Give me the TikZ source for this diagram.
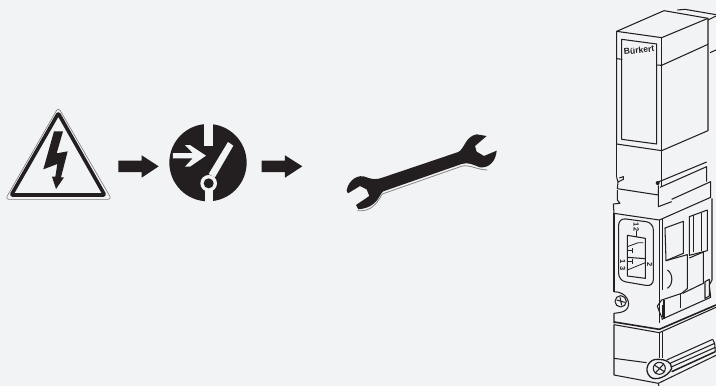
\documentclass[tikz,border=0pt]{standalone}
\usepackage{fontspec}
\setmainfont{Liberation Sans}
\definecolor{bgc}{HTML}{F2F3F5}
\definecolor{ink}{HTML}{231F20}
\tikzset{
  zm/.style={x=0.33333pt,y=-0.33333pt},
  dl/.style={draw=ink,line width=1.05pt,line join=round,fill=none},
  thinline/.style={draw=ink,line width=0.8pt},
  lab/.style={inner sep=0pt,font=\bfseries\fontsize{7.5}{8}\selectfont,text=ink,rotate=-90}
}
\begin{document}
\begin{tikzpicture}[x=1pt,y=-1pt]
\useasboundingbox[fill=bgc] (0,0) rectangle (716,386);
% warning triangle
\begin{scope}[shift={(0,90)},zm]
\draw[draw=ink!60,line width=0.6pt,line join=round,rounded corners=3.5pt] (175,52)--(335,328)--(16,328)--cycle;
\draw[draw=ink,line width=3.6pt,line join=round,rounded corners=1pt] (175,70)--(314,315)--(34,315)--cycle;
\fill[ink] (162,124)--(189,124)--(170,190)--(203,184)--(183,262)--(192,262)--(168,297)--(156,260)--(166,260)--(172,222)--(130,238)--cycle;
% arrow 1
\fill[ink] (355,212)--(425,212)--(425,196)--(476,229)--(425,263)--(425,246)--(355,246)--cycle;
% switch
\fill[ink] (624,218) circle (116);
\fill[bgc] (612,100) rectangle (640,167);
\fill[bgc] (614,300) rectangle (638,336);
\fill[bgc] (684,156)--(700,167)--(645,262)--(626,252)--cycle;
\fill[bgc] (626,280) circle (25);
\fill[ink] (626,280) circle (15);
\fill[bgc] (519,189)--(578,189)--(555,165)--(570,165)--(618,197)--(570,230)--(555,230)--(578,205)--(519,205)--cycle;
% arrow 2
\fill[ink] (785,212)--(855,212)--(855,196)--(907,229)--(855,263)--(855,246)--(785,246)--cycle;
\end{scope}
% wrench
\begin{scope}[shift={(330,120)},zm]
\draw[ink!55,line width=0.8pt] (82,272) .. controls (125,276) and (140,250) .. (157,222) -- (397,138) .. controls (420,134) and (445,150) .. (472,150);
\fill[ink] (50,212) .. controls (55,180) and (85,160) .. (110,172) .. controls (125,178) and (140,180) .. (160,172)
 -- (385,96) .. controls (405,85) and (405,50) .. (440,43)
 -- (470,48) -- (435,78) -- (440,95) -- (462,108) -- (500,92)
 .. controls (498,120) and (480,145) .. (450,142)
 .. controls (430,135) and (415,125) .. (395,132)
 -- (160,214) .. controls (145,225) and (145,262) .. (85,268)
 -- (78,255) -- (118,228) -- (110,208) -- (90,198) -- (54,220) -- cycle;
\end{scope}
% device upper
\begin{scope}[shift={(590,0)},zm]
\path[dl] (80,94)--(222,32)--(354,55)--(354,392)--(215,452)--(80,432)--cycle;
\path[dl] (80,94)--(215,113)--(354,55);
\path[dl] (215,113)--(215,560);
\path[dl] (262,30)--(285,28)--(378,44);
\path[dl] (354,60)--(378,48);
\path[dl] (80,176)--(97,178);
\path[dl] (200,195)--(215,196)--(354,133);
\path[dl] (360,158)--(378,150);
\path[dl] (95,118)--(200,132)--(200,432)--(95,418)--cycle;
\path[dl] (80,432)--(80,532);
\path[dl] (80,532)--(84,546)--(100,538)--(100,530)--(88,534);
\path[dl] (84,546)--(82,566)--(205,585)--(205,556);
\fill[ink] (203,549) circle (6);
\path[dl] (205,546)--(350,486);
\path[dl] (210,562)--(350,500)--(350,545);
\path[dl] (245,598)--(362,545)--(362,570);
\node[inner sep=0pt,font=\bfseries\fontsize{8.6}{9}\selectfont,text=ink,rotate=6] (logo) at (147,150) {Bürkert};
\end{scope}
% device lower
\begin{scope}[shift={(590,190)},zm]
\path[dl] (82,0)--(82,30)--(90,40)--(70,42)--(72,70)--(208,90)--(362,22)--(362,0);
\path[dl] (72,70)--(72,305);
\path[dl] (208,90)--(208,400);
\path[dl] (218,88)--(218,300);
\path[dl] (205,0)--(205,50)--(245,35);
\path[dl] (366,25)--(366,270)--(358,285)--(362,322)--(215,388);
% plate
\path[dl,rounded corners=7pt] (86,84)--(190,98)--(190,290)--(86,272)--cycle;
\path[dl] (112,136)--(166,145)--(166,265)--(112,258)--cycle;
\path[dl] (112,202)--(166,206);
\path[thinline] (112,170)--(145,158)--(160,158);
\path[thinline] (112,182)--(130,182) (128,175)--(128,190);
\path[thinline] (112,214)--(130,214) (128,206)--(128,222);
\path[thinline] (112,240)--(166,218);
\path[thinline] (138,122)--(138,140);
\node[lab] (n12) at (139,111) {12};
\node[lab] (n13) at (98,225) {1 3};
\node[lab] (n2) at (179,224) {2};
% right panels
\path[dl] (225,114)--(280,94)--(280,190)--(228,212)--cycle;
\path[dl] (228,212)--(292,194)--(292,296)--(275,310)--(215,330)--(202,348)--(208,365)--(218,388);
\path[dl] (298,80)--(352,60)--(352,182)--(298,196)--cycle;
\path[dl] (310,76)--(310,186) (334,68)--(334,182);
\path[dl] (298,204)--(340,186)--(340,280)--(278,310);
\path[dl] (272,312)--(272,355);
\path[dl] (232,240) .. controls (250,250) and (250,285) .. (232,295);
\path[dl] (345,275)--(358,268)--(358,318)--(345,325)--cycle;
\path[dl] (218,345)--(218,380) (222,330)--(222,388);
% screw
\path[dl] (72,305) .. controls (110,305) and (125,340) .. (110,358) .. controls (100,368) and (85,368) .. (72,370)--(72,400);
\path[dl] (92,334) circle (17);
\path[dl] (80,330)--(104,337) (90,322)--(95,346);
% joint
\path[draw=ink,line width=1.6pt] (72,396)--(208,418)--(378,345);
\path[dl] (72,404)--(208,428)--(378,352);
\path[dl] (72,404)--(72,505)--(170,518);
\path[dl] (208,428)--(208,505);
\path[dl] (218,425)--(218,505);
% lower screw & rail
\path[dl,line width=1.3pt] (205,508) .. controls (175,505) and (160,540) .. (180,560) .. controls (195,575) and (235,560) .. (245,535) .. controls (245,515) and (225,508) .. (205,508);
\path[dl] (208,535) circle (18);
\path[dl] (193,525)--(224,546) (222,521)--(195,550);
\path[dl] (230,510)--(368,448);
\path[dl] (240,520)--(374,460);
\path[dl] (246,530)--(376,472);
\path[dl,line width=1.5pt] (245,545)--(376,485);
\path[dl] (368,448)--(374,460)--(376,485);
\path[dl] (72,505)--(72,555)--(205,580)--(378,496);
\path[dl] (205,580)--(208,596);
\end{scope}
\end{tikzpicture}
\end{document}
